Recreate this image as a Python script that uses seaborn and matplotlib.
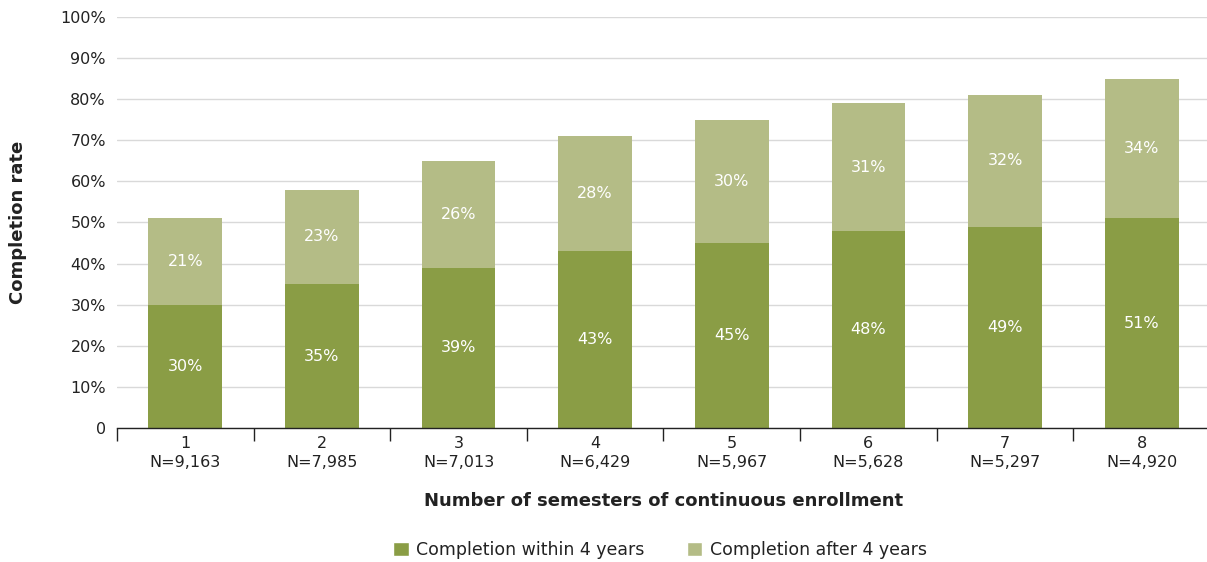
import matplotlib
matplotlib.use("Agg")
import matplotlib.pyplot as plt
from matplotlib.patches import Patch
from matplotlib.ticker import FixedLocator, FuncFormatter
import seaborn as sns
import pandas as pd

# Completion rates by semesters of continuous enrollment
semesters = ["1", "2", "3", "4", "5", "6", "7", "8"]
cohort_n = ["9,163", "7,985", "7,013", "6,429", "5,967", "5,628", "5,297", "4,920"]
within_4yrs = [30, 35, 39, 43, 45, 48, 49, 51]
after_4yrs = [21, 23, 26, 28, 30, 31, 32, 34]

dark_green = "#8a9d45"
light_green = "#b4bc86"

sns.set_theme(style="white")
plt.rcParams["font.family"] = ["DejaVu Sans"]

df = pd.DataFrame({
    "semester": semesters,
    "within": within_4yrs,
    "after": after_4yrs,
})
df["total"] = df["within"] + df["after"]

fig = plt.figure(figsize=(12.07, 5.62), dpi=100)
ax = fig.add_axes([117 / 1207, 1 - 428 / 562, (1210 - 117) / 1207, (428 - 17) / 562])

# stacked look: full-height light bars, then the within-4-years part over them
sns.barplot(data=df, x="semester", y="total", color=light_green, width=0.54,
            saturation=1, ax=ax, zorder=3)
sns.barplot(data=df, x="semester", y="within", color=dark_green, width=0.54,
            saturation=1, ax=ax, zorder=4)

for p in ax.patches:
    p.set_edgecolor("none")

for i, (w, a) in enumerate(zip(within_4yrs, after_4yrs)):
    ax.text(i, w / 2, f"{w}%", ha="center", va="center", color="white",
            fontsize=11.5, zorder=5)
    ax.text(i, w + a / 2, f"{a}%", ha="center", va="center", color="white",
            fontsize=11.5, zorder=5)

ax.set_ylim(0, 100)
ax.set_xlim(-0.5, len(semesters) - 0.5)
ax.yaxis.set_major_locator(FixedLocator(range(0, 101, 10)))
ax.yaxis.set_major_formatter(FuncFormatter(lambda v, _: "0" if v == 0 else f"{int(v)}%"))
ax.grid(axis="y", color="#d9d9d9", linewidth=1, zorder=0)
ax.grid(axis="x", visible=False)

ax.set_xticks(range(len(semesters)))
ax.set_xticklabels([f"{s}\nN={n}" for s, n in zip(semesters, cohort_n)],
                   fontsize=11.5, color="#222222", linespacing=1.3)
ax.set_xticks([i - 0.5 for i in range(len(semesters) + 1)], minor=True)
ax.tick_params(axis="x", which="major", length=0, pad=6)
ax.tick_params(axis="x", which="minor", length=9, width=1, color="#222222",
               direction="out", bottom=True)
ax.tick_params(axis="y", length=0, pad=8, labelsize=11.5, labelcolor="#222222")

for side in ["top", "right", "left"]:
    ax.spines[side].set_visible(False)
ax.spines["bottom"].set_color("#222222")
ax.spines["bottom"].set_linewidth(1)
ax.spines["bottom"].set_zorder(6)

ax.set_xlabel("Number of semesters of continuous enrollment", fontsize=13,
              fontweight="bold", color="#222222", labelpad=16)
ax.set_ylabel("Completion rate", fontsize=13, fontweight="bold",
              color="#222222", labelpad=24)

handles = [Patch(facecolor=dark_green, label="Completion within 4 years"),
           Patch(facecolor=light_green, label="Completion after 4 years")]
fig.legend(handles=handles, loc="center", bbox_to_anchor=(660 / 1207, 1 - 550 / 562),
           ncol=2, frameon=False, fontsize=12.5, handlelength=0.9, handleheight=0.9,
           handletextpad=0.45, columnspacing=2.4, labelcolor="#222222")

fig.savefig("out.png", dpi=100)
